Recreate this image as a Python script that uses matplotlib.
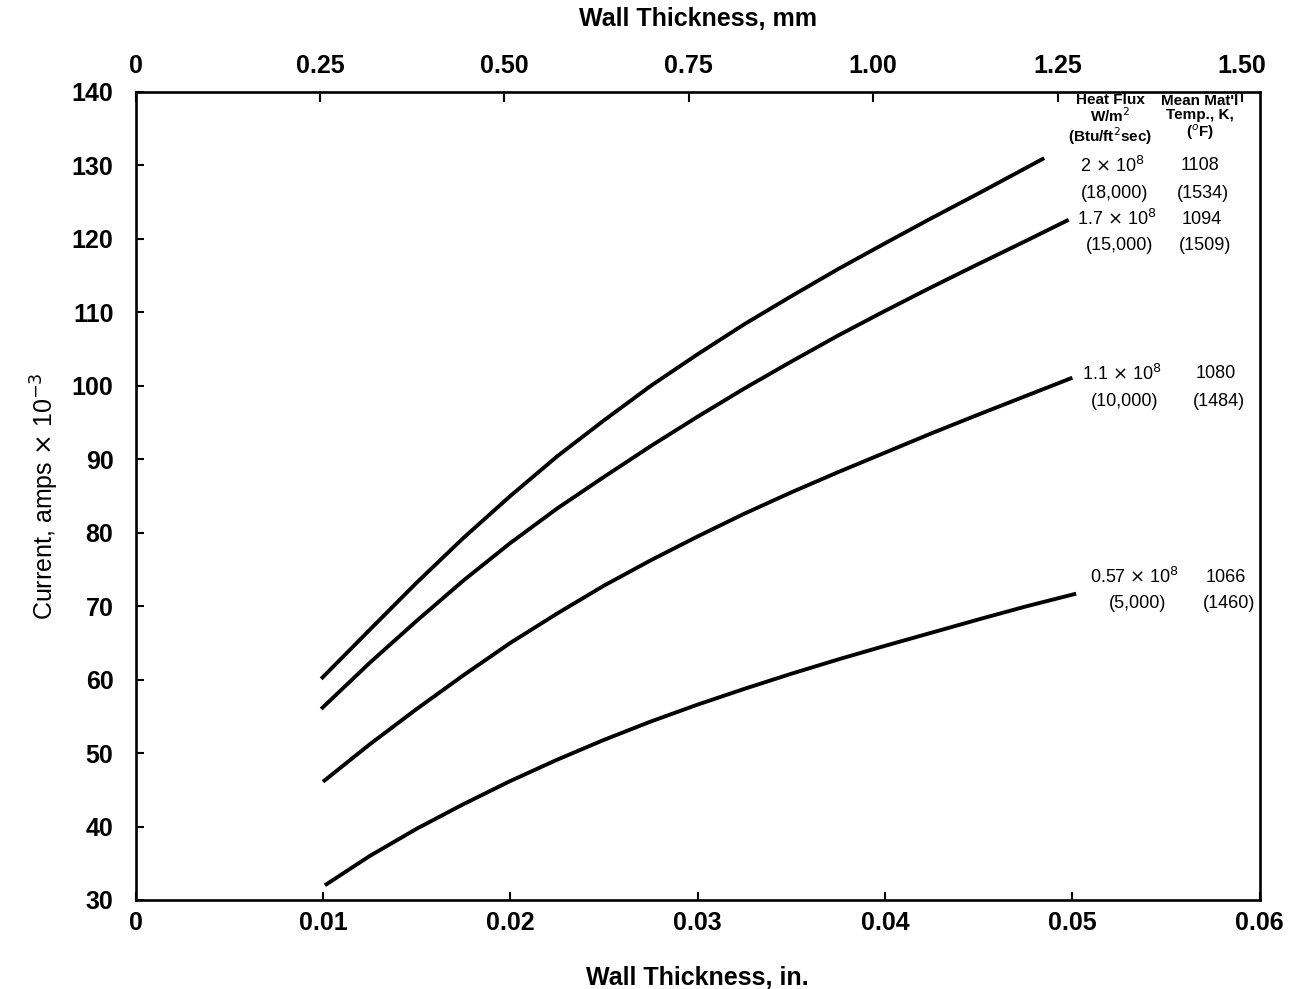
import matplotlib
matplotlib.use("Agg")
import matplotlib.pyplot as plt

plt.rcParams['font.family'] = ['Liberation Sans', 'DejaVu Sans']

# wall thickness (in.) and current (amps x 10^-3)
x_18000 = [0.0099, 0.0125, 0.015, 0.0175, 0.020, 0.0225, 0.025, 0.0275, 0.030,
           0.0325, 0.035, 0.0375, 0.040, 0.0425, 0.045, 0.0485]
y_18000 = [60.1, 66.8, 73.2, 79.3, 85.0, 90.4, 95.3, 100.0, 104.3,
           108.4, 112.2, 115.9, 119.4, 122.85, 126.2, 131.0]

x_15000 = [0.0099, 0.0125, 0.015, 0.0175, 0.020, 0.0225, 0.025, 0.0275, 0.030,
           0.0325, 0.035, 0.0375, 0.040, 0.0425, 0.045, 0.0475, 0.0498]
y_15000 = [56.0, 62.3, 68.0, 73.5, 78.6, 83.3, 87.6, 91.8, 95.8,
           99.65, 103.3, 106.85, 110.2, 113.45, 116.6, 119.7, 122.6]

x_10000 = [0.0100, 0.0125, 0.015, 0.0175, 0.020, 0.0225, 0.025, 0.0275, 0.030,
           0.0325, 0.035, 0.0375, 0.040, 0.0425, 0.045, 0.0475, 0.0500]
y_10000 = [46.1, 51.2, 56.0, 60.6, 65.0, 69.0, 72.8, 76.25, 79.5,
           82.6, 85.5, 88.25, 90.9, 93.55, 96.1, 98.6, 101.1]

x_5000 = [0.0101, 0.0125, 0.015, 0.0175, 0.020, 0.0225, 0.025, 0.0275, 0.030,
          0.0325, 0.035, 0.0375, 0.040, 0.0425, 0.045, 0.0475, 0.0502]
y_5000 = [32.0, 36.0, 39.7, 43.05, 46.2, 49.1, 51.8, 54.3, 56.6,
          58.75, 60.8, 62.75, 64.6, 66.4, 68.2, 69.95, 71.7]

x_ticks_in = [0, 0.01, 0.02, 0.03, 0.04, 0.05, 0.06]
x_labels_in = ['0', '0.01', '0.02', '0.03', '0.04', '0.05', '0.06']
x_ticks_mm = [0, 0.25, 0.50, 0.75, 1.00, 1.25, 1.50]
x_labels_mm = ['0', '0.25', '0.50', '0.75', '1.00', '1.25', '1.50']
y_ticks = [30, 40, 50, 60, 70, 80, 90, 100, 110, 120, 130, 140]

# labels next to each curve: flux, (Btu), temp K, (F)
flux_labels = [r'2 $\times$ 10$^8$', r'1.7 $\times$ 10$^8$',
               r'1.1 $\times$ 10$^8$', r'0.57 $\times$ 10$^8$']
btu_labels = ['(18,000)', '(15,000)', '(10,000)', '(5,000)']
temp_labels = ['1108', '1094', '1080', '1066']
degf_labels = ['(1534)', '(1509)', '(1484)', '(1460)']

fig = plt.figure(figsize=(12.92, 9.89), dpi=100)
ax = fig.add_axes([0.105, 0.09, 0.87, 0.817])

for xs, ys in [(x_18000, y_18000), (x_15000, y_15000),
               (x_10000, y_10000), (x_5000, y_5000)]:
    ax.plot(xs, ys, color='black', linewidth=2.8, solid_capstyle='butt')

ax.set_xlim(0, 0.06)
ax.set_ylim(30, 140)
ax.set_xticks(x_ticks_in)
ax.set_xticklabels(x_labels_in)
ax.set_yticks(y_ticks)
for s in ax.spines.values():
    s.set_linewidth(1.9)
ax.tick_params(axis='both', direction='in', length=6, width=1.5,
               labelsize=18, pad=8)
ax.tick_params(axis='y', pad=16)
for lab in ax.get_xticklabels() + ax.get_yticklabels():
    lab.set_fontweight('bold')

ax.set_xlabel('Wall Thickness, in.', fontsize=18, fontweight='bold', labelpad=22)
ax.set_ylabel(r'Current, amps $\times$ 10$^{-3}$', fontsize=18, labelpad=8)

top = ax.secondary_xaxis('top', functions=(lambda x: x * 25.4, lambda x: x / 25.4))
top.set_xticks(x_ticks_mm)
top.set_xticklabels(x_labels_mm)
top.tick_params(direction='in', length=7, width=1.5, labelsize=18, pad=10)
for lab in top.get_xticklabels():
    lab.set_fontweight('bold')
top.set_xlabel('Wall Thickness, mm', fontsize=18, fontweight='bold', labelpad=20)

# column headers
fig.text(1110 / 1292, 1 - 120 / 989, 'Heat Flux\nW/m$^2$\n(Btu/ft$^2$sec)',
         ha='center', va='center', fontsize=11, fontweight='bold', linespacing=1.0)
fig.text(1200 / 1292, 1 - 118 / 989, "Mean Mat'l\nTemp., K,\n($^o$F)",
         ha='center', va='center', fontsize=11, fontweight='bold', linespacing=1.0)

label_rows = [(112, 166, 1200), (117, 219, 1202), (122, 374, 1216), (135, 577, 1226)]
for i, (fx, py, tx) in enumerate(label_rows):
    fig.text((fx + 1000) / 1292, 1 - py / 989, flux_labels[i],
             ha='center', va='center', fontsize=13)
    fig.text((fx + 1003) / 1292, 1 - (py + 27) / 989, btu_labels[i],
             ha='center', va='center', fontsize=13)
    fig.text(tx / 1292, 1 - py / 989, temp_labels[i],
             ha='center', va='center', fontsize=13)
    fig.text((tx + 3) / 1292, 1 - (py + 27) / 989, degf_labels[i],
             ha='center', va='center', fontsize=13)

fig.savefig('out.png', dpi=100, facecolor='white')
